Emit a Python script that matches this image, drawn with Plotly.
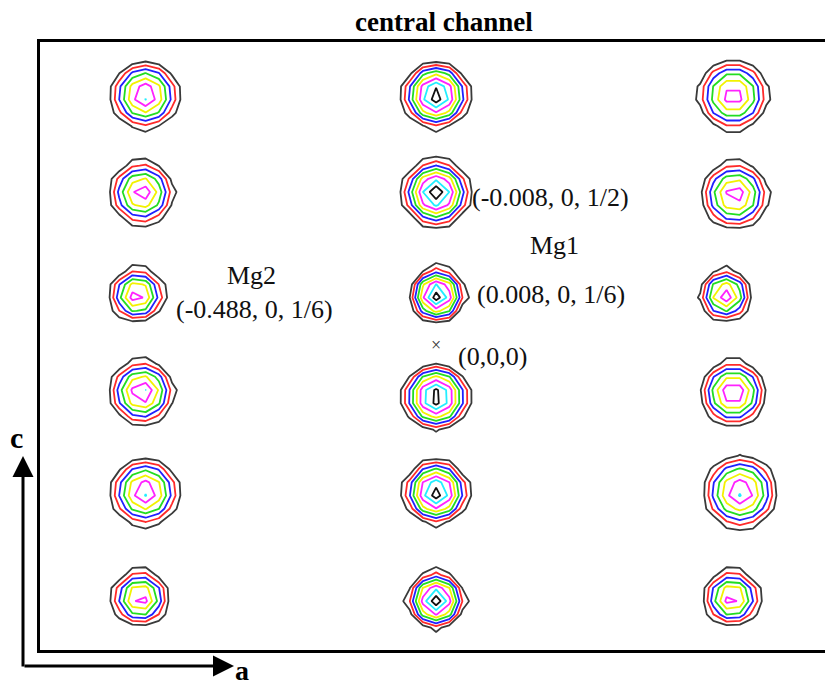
import numpy as np
import plotly.graph_objects as go

# Atom sites in the a-c section (fractional coordinates)
site_x = [-0.485, -0.490, -0.498, -0.490, -0.485, -0.493,
          0.000, 0.000, 0.002, 0.000, 0.000, 0.000,
          0.495, 0.498, 0.482, 0.495, 0.507, 0.493]
site_z = [0.833, 0.507, 0.167, -0.157, -0.490, -0.843,
          0.833, 0.507, 0.167, -0.173, -0.490, -0.850,
          0.833, 0.500, 0.167, -0.160, -0.490, -0.843]
# Peak heights (in contour steps) and base radii (fraction of a)
peak_height = [7.35, 6.9, 7.0, 7.3, 7.3, 6.9,
               9.0, 9.0, 8.9, 9.0, 8.9, 8.9,
               6.9, 6.9, 7.0, 7.3, 7.3, 6.9]
peak_radius = [0.062, 0.059, 0.050, 0.059, 0.062, 0.052,
               0.060, 0.060, 0.050, 0.060, 0.058, 0.052,
               0.065, 0.062, 0.048, 0.060, 0.067, 0.052]

# Contour levels and their line colours
levels = [1, 2, 3, 4, 5, 6, 7, 8]
level_colors = ["#3a3a3a", "#ff2a2a", "#2020ff", "#22dd22",
                "#f2f200", "#ff22ff", "#22eeff", "#111111"]

CELL_RATIO = 0.5  # c / a
PROFILE_EXP = 1.5

# Sampling grid of the density section
gx = np.arange(-0.66, 0.66 + 1e-9, 0.022)
gz = np.arange(-1.03, 1.03 + 1e-9, 0.044)
X, Z = np.meshgrid(gx, gz)
rho = np.zeros_like(X)
for x0, z0, h, r in zip(site_x, site_z, peak_height, peak_radius):
    d = np.sqrt((X - x0) ** 2 + ((Z - z0) * CELL_RATIO) ** 2)
    rho += h * np.clip(1.0 - (d / r) ** PROFILE_EXP, 0.0, None)

fig = go.Figure()
for lv, col in zip(levels, level_colors):
    fig.add_trace(go.Contour(
        x=gx, y=gz, z=rho,
        autocontour=False,
        contours=dict(start=lv, end=lv + 0.1, size=1, coloring="none"),
        line=dict(color=col, width=1.8, smoothing=0),
        showscale=False, hoverinfo="skip",
    ))

serif = "Liberation Serif"
labels = [
    ("Mg2", -0.307, 0.233, "center"),
    ("(-0.488, 0, 1/6)", -0.303, 0.117, "center"),
    ("(-0.008, 0, 1/2)", 0.056, 0.493, "left"),
    ("Mg1", 0.198, 0.333, "center"),
    ("(0.008, 0, 1/6)", 0.064, 0.167, "left"),
    ("(0,0,0)", 0.033, -0.037, "left"),
]
for txt, lx, lz, anc in labels:
    fig.add_annotation(x=lx, y=lz, text=txt, showarrow=False, xanchor=anc,
                       yanchor="middle",
                       font=dict(family=serif, size=26, color="#111"))
fig.add_annotation(x=0, y=0, text="×", showarrow=False, yanchor="middle",
                   font=dict(family=serif, size=18, color="#333"))

W, H = 825, 687
L, T, B = 40, 42, 37
PW, PH = W - L, H - T - B


def px(xp):
    return (xp - L) / PW


def py(yp):
    return (H - B - yp) / PH


# Axis direction arrows
fig.add_annotation(x=px(23), y=py(456), xref="paper", yref="paper", ax=0, ay=212,
                   showarrow=True, arrowhead=2, arrowsize=1.4, arrowwidth=3,
                   arrowcolor="#000", text="")
fig.add_annotation(x=px(234), y=py(666), xref="paper", yref="paper", ax=-211, ay=0,
                   showarrow=True, arrowhead=2, arrowsize=1.4, arrowwidth=3,
                   arrowcolor="#000", text="")
fig.add_annotation(x=px(16), y=py(437), xref="paper", yref="paper", text="<b>c</b>",
                   showarrow=False, xanchor="center", yanchor="middle",
                   font=dict(family=serif, size=30, color="#000"))
fig.add_annotation(x=px(242), y=py(670), xref="paper", yref="paper", text="<b>a</b>",
                   showarrow=False, xanchor="center", yanchor="middle",
                   font=dict(family=serif, size=28, color="#000"))
fig.add_annotation(x=px(444), y=py(22), xref="paper", yref="paper",
                   text="<b>central channel</b>", showarrow=False,
                   xanchor="center", yanchor="middle",
                   font=dict(family=serif, size=27, color="#000"))

fig.update_xaxes(range=[-0.66, 0.648], showgrid=False, zeroline=False,
                 showticklabels=False, ticks="", showline=True, linewidth=3,
                 linecolor="#000", mirror=True)
fig.update_yaxes(range=[-1.0167, 1.01], showgrid=False, zeroline=False,
                 showticklabels=False, ticks="", showline=True, linewidth=3,
                 linecolor="#000", mirror=False)
fig.update_layout(width=W, height=H, margin=dict(l=L, r=0, t=T, b=B),
                  plot_bgcolor="white", paper_bgcolor="white", showlegend=False)
fig.write_html("out.html")
